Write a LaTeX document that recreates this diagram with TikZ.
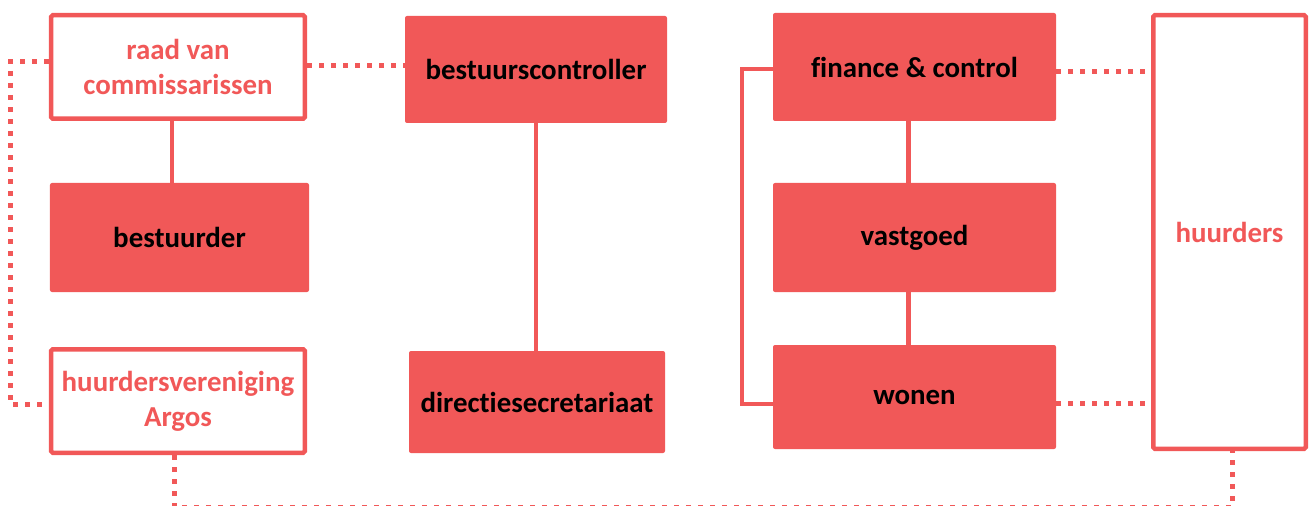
\documentclass[tikz,border=0pt]{standalone}
\usepackage{fontspec}
\setmainfont{Carlito}[Ligatures=CommonOff]
\definecolor{org}{RGB}{241,88,88}
\begin{document}
\begin{tikzpicture}[x=1bp,y=-1bp,
  filledbox/.style={rectangle,fill=org,draw=none,rounded corners=2bp,text=black,
    font=\fontsize{29}{35}\selectfont\bfseries,align=center,inner sep=0pt},
  openbox/.style={rectangle,draw=org,line width=4.5bp,fill=white,rounded corners=1.5bp,text=org,
    font=\fontsize{29}{35}\selectfont\bfseries,align=center,inner sep=0pt},
  solidline/.style={draw=org,line width=4.5bp},
  dotline/.style={draw=org,line width=5bp,dash pattern=on 5bp off 7bp}]
\useasboundingbox (0,0) rectangle (1309,506);
% nodes
\node[openbox,minimum width=253.5bp,minimum height=103.5bp,text depth=-3bp] (raad) at (178,67) {raad van\\commissarissen};
\node[filledbox,minimum width=262bp,minimum height=107bp] (bc) at (536,69.5) {bestuurscontroller};
\node[filledbox,minimum width=259bp,minimum height=109bp] (bes) at (179.5,237.5) {bestuurder};
\node[openbox,minimum width=253.5bp,minimum height=103.5bp] (hv) at (178,401) {huurdersvereniging\\Argos};
\node[filledbox,minimum width=256bp,minimum height=102bp] (ds) at (537,402) {directiesecretariaat};
\node[filledbox,minimum width=283bp,minimum height=108bp] (fc) at (914.5,67) {finance \& control};
\node[filledbox,minimum width=283bp,minimum height=109bp] (vg) at (914.5,237.5) {vastgoed};
\node[filledbox,minimum width=283bp,minimum height=104bp] (wo) at (914.5,397) {wonen};
\node[openbox,minimum width=152.5bp,minimum height=433.5bp] (hu) at (1229.5,232) {huurders};
% helper coordinates
\coordinate (L1) at (10,62);
\coordinate (L2) at (10,404);
\coordinate (F1) at (742,69);
\coordinate (F2) at (742,404);
\coordinate (B1) at (174,507);
\coordinate (B2) at (1232,507);
\coordinate (R1) at (0,66);
\coordinate (H1) at (0,72);
\coordinate (H2) at (0,403);
% solid connectors
\draw[solidline] ([xshift=-6bp]raad.south) -- ([xshift=-6bp]raad.south |- bes.north);
\draw[solidline] (bc.south) -- (bc.south |- ds.north);
\draw[solidline] ([xshift=-6bp]fc.south) -- ([xshift=-6bp]fc.south |- vg.north);
\draw[solidline] ([xshift=-6bp]vg.south) -- ([xshift=-6bp]vg.south |- wo.north);
\draw[solidline] (fc.west |- F1) -- (F1) -- (F2) -- (wo.west |- F2);
% dotted connectors
\draw[dotline] (raad.east |- R1) -- (bc.west |- R1);
\draw[dotline] (raad.west |- L1) -- (L1) -- (L2) -- (hv.west |- L2);
\draw[dotline] (fc.east |- H1) -- (hu.west |- H1);
\draw[dotline] (wo.east |- H2) -- (hu.west |- H2);
\draw[dotline] (hv.south -| B1) -- (B1) -- (B2) -- (hu.south -| B2);
\end{tikzpicture}
\end{document}
